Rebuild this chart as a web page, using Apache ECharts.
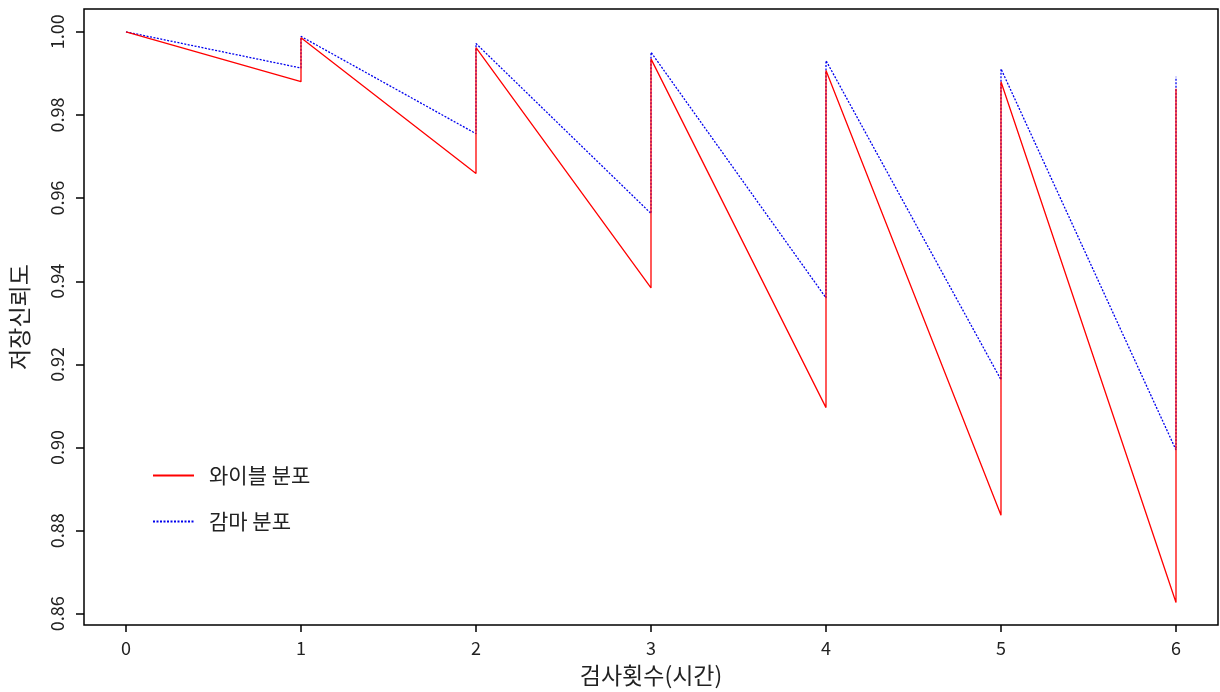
<!DOCTYPE html>
<html>
<head>
<meta charset="utf-8">
<script src="https://cdn.jsdelivr.net/npm/echarts@6/dist/echarts.min.js"></script>
<style>
    html, body {margin: 0; padding: 0; background: #fff;}
    #chart {width: 1220px; height: 692px;}
</style>
</head>
<body>
<div id="chart"></div>
<script>
// 검사 시점 (점프 전/후 값이 같은 x 에 두 번)
var xPoints = [0, 1, 1, 2, 2, 3, 3, 4, 4, 5, 5, 6, 6];
var weibull = [1.0, 0.9880, 0.9986, 0.9659, 0.9962, 0.9384, 0.9935, 0.9096, 0.9907, 0.8837, 0.9880, 0.8627, 0.9863];
var gamma = [1.0, 0.9913, 0.9989, 0.9755, 0.9972, 0.9563, 0.9951, 0.9360, 0.9931, 0.9163, 0.9911, 0.8994, 0.9892];
var xTicks = [0, 1, 2, 3, 4, 5, 6];
var yTicks = [0.86, 0.88, 0.90, 0.92, 0.94, 0.96, 0.98, 1.00];
var seriesNames = ['와이블 분포', '감마 분포'];

function pairs(ys) {
    var out = [];
    for (var i = 0; i < xPoints.length; i++) {
        out.push([xPoints[i], ys[i]]);
    }
    return out;
}

var chart = echarts.init(document.getElementById('chart'));
var krFont = '"Noto Sans CJK KR", "Noto Sans", sans-serif';

chart.setOption({
    animation: false,
    grid: {
        left: 84,
        right: 2,
        top: 9,
        bottom: 65,
        show: true,
        borderColor: '#000',
        borderWidth: 1.5,
        backgroundColor: '#fff'
    },
    legend: {
        orient: 'vertical',
        left: 147,
        top: 460,
        itemWidth: 41,
        itemHeight: 20,
        itemGap: 25,
        itemStyle: {opacity: 0},
        textStyle: {
            fontFamily: krFont,
            fontSize: 21,
            color: '#222',
            padding: [0, 0, 0, 10]
        },
        data: seriesNames
    },
    xAxis: {
        type: 'value',
        min: -0.24,
        max: 6.24,
        name: '검사횟수(시간)',
        nameLocation: 'middle',
        nameGap: 39,
        nameTextStyle: {fontFamily: krFont, fontSize: 23, color: '#222'},
        splitLine: {show: false},
        axisLine: {show: false, onZero: false},
        axisTick: {
            show: true,
            customValues: xTicks,
            length: 7,
            lineStyle: {color: '#000', width: 1.5}
        },
        axisLabel: {
            customValues: xTicks,
            margin: 14,
            fontFamily: krFont,
            fontSize: 18,
            color: '#222'
        }
    },
    yAxis: {
        type: 'value',
        min: 0.8573,
        max: 1.0055,
        name: '저장신뢰도',
        nameLocation: 'middle',
        nameGap: 53,
        nameRotate: 90,
        nameTextStyle: {fontFamily: krFont, fontSize: 23, color: '#222'},
        splitLine: {show: false},
        axisLine: {show: false, onZero: false},
        axisTick: {
            show: true,
            customValues: yTicks,
            length: 8,
            lineStyle: {color: '#000', width: 1.5}
        },
        axisLabel: {
            customValues: yTicks,
            rotate: 90,
            margin: 18,
            fontFamily: krFont,
            fontSize: 18,
            color: '#222',
            formatter: function (v) {
                return v.toFixed(2);
            }
        }
    },
    series: [
        {
            name: seriesNames[0],
            type: 'line',
            symbol: 'none',
            data: pairs(weibull),
            lineStyle: {color: '#ff0000', width: 1.3, type: 'solid'},
            itemStyle: {color: '#ff0000'},
            z: 3
        },
        {
            name: seriesNames[1],
            type: 'line',
            symbol: 'none',
            data: pairs(gamma),
            lineStyle: {color: '#0000ee', width: 1.3, type: [2, 1.5]},
            itemStyle: {color: '#0000ee'},
            z: 2
        }
    ]
});
</script>
</body>
</html>
